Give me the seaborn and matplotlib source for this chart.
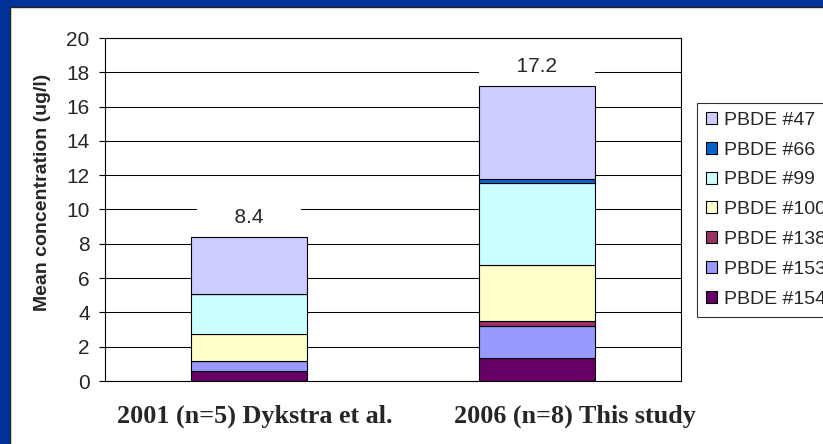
import matplotlib
matplotlib.use("Agg")
import matplotlib.pyplot as plt
import matplotlib.transforms as mtransforms
from matplotlib.patches import Rectangle, Patch
import numpy as np
import seaborn as sns

sns.set_style("white")
plt.rcParams["font.family"] = ["Liberation Sans", "DejaVu Sans"]

# data, stacking order bottom -> top
studies = ["2001 (n=5) Dykstra et al.", "2006 (n=8) This study"]
congeners = ["PBDE #154", "PBDE #153", "PBDE #138", "PBDE #100",
             "PBDE #99", "PBDE #66", "PBDE #47"]
pbde154 = [0.57, 1.32]
pbde153 = [0.60, 1.89]
pbde138 = [0.00, 0.31]
pbde100 = [1.55, 3.23]
pbde99 = [2.35, 4.81]
pbde66 = [0.00, 0.20]
pbde47 = [3.33, 5.44]
series = [pbde154, pbde153, pbde138, pbde100, pbde99, pbde66, pbde47]
colors = ["#660066", "#9999FF", "#993366", "#FFFFCC", "#CCFFFF", "#0066CC", "#CCCCFF"]

W, H = 823, 444
fig = plt.figure(figsize=(W / 100, H / 100), dpi=100, facecolor="#003399")
# white slide panel inside the blue frame
fig.patches.append(Rectangle((10 / W, -0.01), 1.0, 1 - 7 / H + 0.01, transform=fig.transFigure,
                             facecolor="white", edgecolor="#222222", lw=1, zorder=-10))

ax = fig.add_axes([105 / W, 63 / H, 576 / W, 343 / H])
ax.set_facecolor("white")

bottom = np.zeros(len(studies))
for name, vals, c in zip(congeners, series, colors):
    sns.barplot(x=studies, y=vals, bottom=bottom, color=c, saturation=1, width=0.4,
                edgecolor="black", linewidth=0.8, ax=ax)
    bottom = bottom + np.array(vals)

totals = np.sum(series, axis=0)
for i, t in enumerate(totals):
    ax.annotate("      " + f"{t:.1f}" + "      ", xy=(i, t), xytext=(0, 14),
                textcoords="offset points", ha="center", va="center", fontsize=15,
                bbox=dict(boxstyle="square,pad=0.15", facecolor="white", edgecolor="none"))

ax.set_ylim(0, 20)
ax.set_yticks(range(0, 21, 2))
ax.set_xlim(-0.5, 1.5)
ax.yaxis.grid(True, color="black", lw=0.75)
ax.set_axisbelow(True)
for s in ax.spines.values():
    s.set_color("black")
    s.set_linewidth(0.8)

ax.tick_params(axis="y", length=4, width=0.8, color="black", direction="out",
               labelsize=15, pad=7, left=True)
ax.tick_params(axis="x", length=0, pad=17)
ax.set_xlabel("")
ax.set_ylabel("Mean concentration (ug/l)", fontsize=14, fontweight="bold")
ax.yaxis.set_label_coords(-0.094, 0.55)

shifts = [6, 38]
for lab, dx in zip(ax.get_xticklabels(), shifts):
    lab.set_fontfamily(["Liberation Serif", "DejaVu Serif"])
    lab.set_fontweight("bold")
    lab.set_fontsize(18.8)
    lab.set_transform(lab.get_transform() + mtransforms.ScaledTranslation(dx / 100, 0, fig.dpi_scale_trans))

handles = [Patch(facecolor=c, edgecolor="black", lw=0.8, label=n)
           for n, c in zip(congeners, colors)][::-1]
leg = ax.legend(handles=handles, loc="upper left", bbox_to_anchor=(697 / W, 1 - 103 / H),
                bbox_transform=fig.transFigure, frameon=True, fancybox=False,
                edgecolor="black", fontsize=14, handlelength=0.57, handleheight=0.57,
                handletextpad=0.35, labelspacing=0.66, borderaxespad=0, borderpad=0.45)
leg.get_frame().set_linewidth(0.8)

fig.savefig("out.png", dpi=100, facecolor=fig.get_facecolor())
